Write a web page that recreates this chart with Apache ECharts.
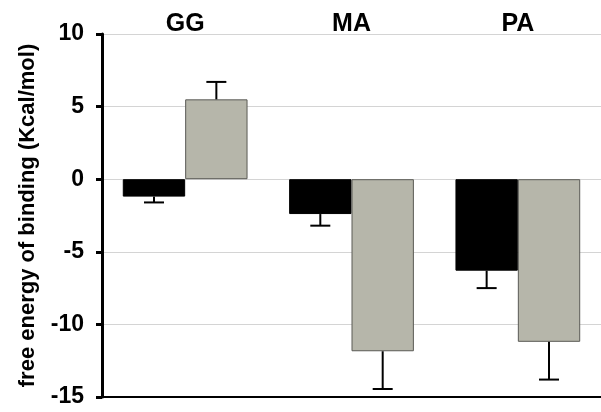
<!DOCTYPE html>
<html>
<head>
<meta charset="utf-8">
<script src="https://cdn.jsdelivr.net/npm/echarts@6/dist/echarts.min.js"></script>
<style>html,body{margin:0;padding:0;background:#fff;}#c{width:601px;height:412px;}</style>
</head>
<body>
<div id="c"></div>
<script>
var categories = ['GG', 'MA', 'PA'];
var blackValues = [-1.2, -2.4, -6.3];
var blackErrors = [0.4, 0.8, 1.2];
var greyValues = [5.5, -11.85, -11.2];
var greyErrors = [1.2, 2.6, 2.6];
var yTicks = [-15, -10, -5, 0, 5, 10];

var FONT = "'Liberation Sans', Arial, sans-serif";
var GAP = 0.25;

function errData(vals, errs) {
  return vals.map(function (v, i) { return [i, v, errs[i]]; });
}

function makeErrSeries(vals, errs, side) {
  return {
    type: 'custom',
    xAxisIndex: 0,
    z: 5,
    data: errData(vals, errs),
    renderItem: function (params, api) {
      var idx = api.value(0), v = api.value(1), e = api.value(2);
      var end = v >= 0 ? v + e : v - e;
      var p0 = api.coord([idx, v]);
      var p1 = api.coord([idx, end]);
      var band = api.size([1, 0])[0];
      var barW = band * (1 - GAP) / 2;
      var x = p0[0] + side * barW / 2;
      var half = 10;
      var style = { stroke: '#000', lineWidth: 2 };
      return {
        type: 'group',
        children: [
          { type: 'line', shape: { x1: x, y1: p0[1], x2: x, y2: p1[1] }, style: style },
          { type: 'line', shape: { x1: x - half, y1: p1[1], x2: x + half, y2: p1[1] }, style: style }
        ]
      };
    }
  };
}

var chart = echarts.init(document.getElementById('c'), null, { renderer: 'canvas' });
chart.setOption({
  animation: false,
  backgroundColor: '#fff',
  grid: { left: 102, right: -3, top: 34, bottom: 15, containLabel: false },
  xAxis: [
    {
      type: 'category',
      data: categories,
      position: 'top',
      axisLine: { show: false },
      axisTick: { show: false },
      axisLabel: { fontFamily: FONT, fontWeight: 'bold', fontSize: 25, color: '#000', margin: -3 }
    },
    {
      type: 'category',
      data: categories,
      position: 'bottom',
      axisLine: { show: true, onZero: true, lineStyle: { color: '#000', width: 2 } },
      axisTick: { show: false },
      axisLabel: { show: false }
    }
  ],
  yAxis: {
    type: 'value',
    min: yTicks[0],
    max: yTicks[yTicks.length - 1],
    interval: 5,
    name: 'free energy of binding (Kcal/mol)',
    nameLocation: 'middle',
    nameRotate: 90,
    nameGap: 63,
    nameTextStyle: { fontFamily: FONT, fontWeight: 'bold', fontSize: 22, color: '#000' },
    axisLine: { show: true, lineStyle: { color: '#000', width: 3 } },
    axisTick: { show: true, length: 6, lineStyle: { color: '#000', width: 3 } },
    axisLabel: { fontFamily: FONT, fontWeight: 'bold', fontSize: 23, color: '#000', margin: 18 },
    splitLine: { show: true, lineStyle: { color: '#d4d4d4', width: 1 } }
  },
  series: [
    {
      type: 'bar',
      name: 'black',
      xAxisIndex: 0,
      data: blackValues,
      barGap: '0%',
      barCategoryGap: (GAP * 100) + '%',
      itemStyle: { color: '#000', borderColor: '#000', borderWidth: 1 }
    },
    {
      type: 'bar',
      name: 'grey',
      xAxisIndex: 0,
      data: greyValues,
      barGap: '0%',
      barCategoryGap: (GAP * 100) + '%',
      itemStyle: { color: '#b6b6aa', borderColor: '#5a5a55', borderWidth: 1 }
    },
    makeErrSeries(blackValues, blackErrors, -1),
    makeErrSeries(greyValues, greyErrors, 1)
  ]
});
</script>
</body>
</html>
